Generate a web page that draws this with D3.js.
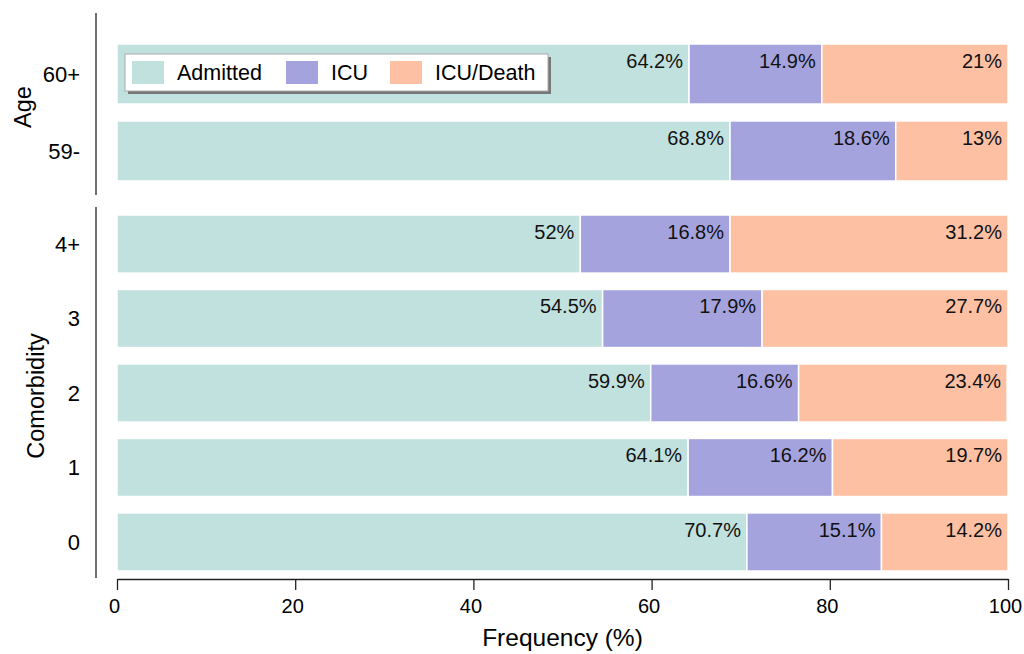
<!DOCTYPE html>
<html>
<head>
<meta charset="utf-8">
<script src="https://cdn.jsdelivr.net/npm/d3@7"></script>
<style>
  body { margin: 0; background: white; }
  svg { display: block; font-family: "Liberation Sans", Arial, sans-serif; }
</style>
</head>
<body>
<svg class="chart" width="1024" height="654"></svg>
<script>
// categories and values
var series = ["Admitted", "ICU", "ICU/Death"];
var colors = ["#c1e1df", "#a5a3de", "#fec0a3"];

var ageCats = ["60+", "59-"];
var ageAdmitted = [64.2, 68.8];
var ageICU = [14.9, 18.6];
var ageDeath = [21, 13];

var comCats = ["4+", "3", "2", "1", "0"];
var comAdmitted = [52, 54.5, 59.9, 64.1, 70.7];
var comICU = [16.8, 17.9, 16.6, 16.2, 15.1];
var comDeath = [31.2, 27.7, 23.4, 19.7, 14.2];

var xTicks = [0, 20, 40, 60, 80, 100];

var svg = d3.select("svg.chart");

var x = d3.scaleLinear().domain([0, 100]).range([117, 1008]);

var groups = [
	{ name: "Age", cats: ageCats, vals: [ageAdmitted, ageICU, ageDeath], range: [44, 181], line: [13, 195], lx: 31, ly: 107 },
	{ name: "Comorbidity", cats: comCats, vals: [comAdmitted, comICU, comDeath], range: [215, 571], line: [207, 578], lx: 44, ly: 396 }
];

groups.forEach(function(grp) {
	var y = d3.scaleBand().domain(grp.cats).range(grp.range).paddingInner(0.22).paddingOuter(0);

	// stack the three series for each category
	var rows = grp.cats.map(function(c, i) {
		var start = 0;
		return grp.vals.map(function(v, s) {
			var seg = { cat: c, s: s, v: v[i], x0: start, x1: Math.min(start + v[i], 100) };
			start += v[i];
			return seg;
		});
	});
	var segs = [].concat.apply([], rows);

	var g = svg.append("g");
	g.selectAll("rect")
		.data(segs)
		.join("rect")
		.attr("x", function(d) { return x(d.x0); })
		.attr("y", function(d) { return y(d.cat); })
		.attr("width", function(d) { return x(d.x1) - x(d.x0); })
		.attr("height", y.bandwidth())
		.attr("fill", function(d) { return colors[d.s]; })
		.attr("stroke", "white")
		.attr("stroke-width", 1.5);

	g.selectAll("text.val")
		.data(segs)
		.join("text")
		.attr("class", "val")
		.attr("x", function(d) { return x(d.x1) - 6; })
		.attr("y", function(d) { return y(d.cat) + 24; })
		.attr("text-anchor", "end")
		.attr("font-size", 20)
		.attr("fill", "#111")
		.text(function(d) { return d.v + "%"; });

	// category labels
	svg.append("g").selectAll("text")
		.data(grp.cats)
		.join("text")
		.attr("x", 80)
		.attr("y", function(d) { return y(d) + y.bandwidth() / 2; })
		.attr("dy", "0.35em")
		.attr("text-anchor", "end")
		.attr("font-size", 22)
		.text(function(d) { return d; });

	// group bracket line and title
	svg.append("line")
		.attr("x1", 96).attr("x2", 96)
		.attr("y1", grp.line[0]).attr("y2", grp.line[1])
		.attr("stroke", "#222").attr("stroke-width", 1.3);

	svg.append("text")
		.attr("transform", "translate(" + grp.lx + "," + grp.ly + ") rotate(-90)")
		.attr("text-anchor", "middle")
		.attr("font-size", 23.5)
		.text(grp.name);
});

// x axis
var xAxis = svg.append("g")
	.attr("transform", "translate(0,579)")
	.call(d3.axisBottom(x).tickValues(xTicks).tickSize(11).tickSizeOuter(0));
xAxis.select(".domain").attr("stroke", "#222").attr("stroke-width", 1.3);
xAxis.selectAll(".tick line").attr("stroke", "#222").attr("stroke-width", 1.3);
xAxis.selectAll(".tick text")
	.attr("font-family", "Liberation Sans, Arial, sans-serif")
	.attr("font-size", 20)
	.attr("fill", "#000")
	.attr("y", 20)
	.attr("dx", -3);

svg.append("text")
	.attr("x", x(50))
	.attr("y", 646)
	.attr("text-anchor", "middle")
	.attr("font-size", 24.5)
	.text("Frequency (%)");

// legend with drop shadow
var leg = svg.append("g");
leg.append("rect")
	.attr("x", 128).attr("y", 57).attr("width", 423).attr("height", 37)
	.attr("fill", "#777");
leg.append("rect")
	.attr("x", 125).attr("y", 54).attr("width", 423).attr("height", 37)
	.attr("fill", "white").attr("stroke", "#aaa").attr("stroke-width", 1);

var legX = [132, 286, 390];
series.forEach(function(s, i) {
	leg.append("rect")
		.attr("x", legX[i]).attr("y", 61).attr("width", 32).attr("height", 23)
		.attr("fill", colors[i]);
	leg.append("text")
		.attr("x", legX[i] + 45).attr("y", 80)
		.attr("font-size", 21.5)
		.text(s);
});
</script>
</body>
</html>
